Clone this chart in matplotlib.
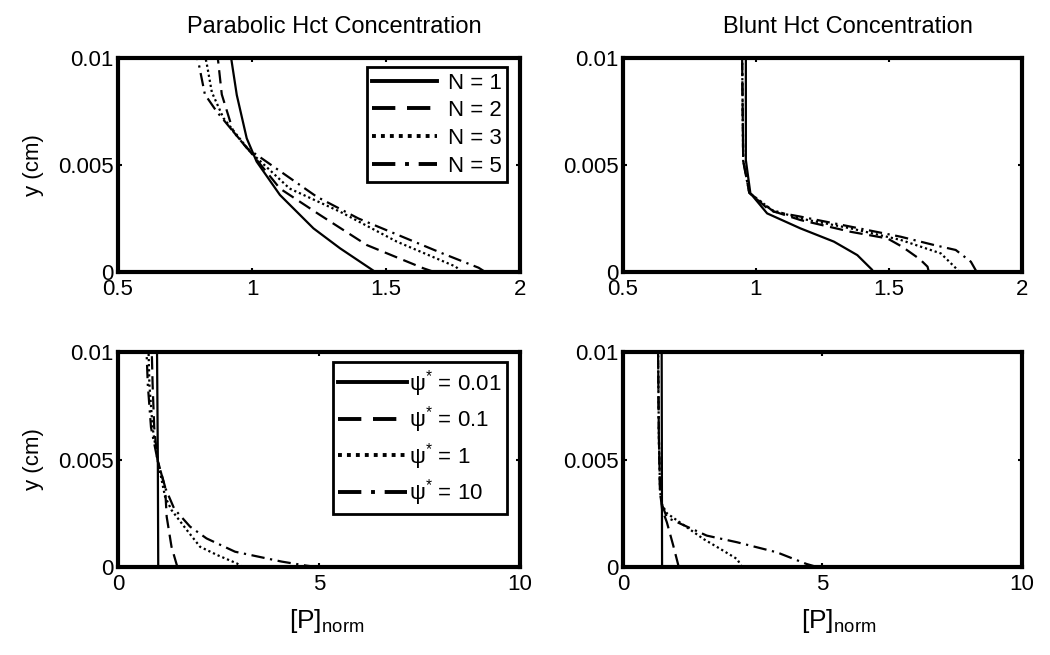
import numpy as np
import matplotlib
matplotlib.use("Agg")
import matplotlib.pyplot as plt

plt.rcParams["font.family"] = ["Liberation Sans", "DejaVu Sans"]
plt.rcParams["mathtext.fontset"] = "custom"
plt.rcParams["mathtext.rm"] = "Liberation Sans"
plt.rcParams["mathtext.it"] = "Liberation Sans:italic"

# --- values: y in cm, x = normalized [P] ---
# parabolic Hct, varying N
par_y1 = [0.0, 0.00017, 0.00111, 0.00204, 0.0036, 0.00516, 0.00625, 0.00827, 0.00983, 0.01]
par_n1 = [1.46, 1.44, 1.328, 1.229, 1.104, 1.017, 0.98, 0.943, 0.924, 0.922]
par_y2 = [0.0, 0.00017, 0.00126, 0.00266, 0.0039, 0.00562, 0.00656, 0.0083, 0.0098, 0.01]
par_n2 = [1.68, 1.64, 1.428, 1.254, 1.104, 0.993, 0.93, 0.887, 0.874, 0.872]
par_y3 = [0.0, 0.00025, 0.00142, 0.00282, 0.0039, 0.00562, 0.0072, 0.0084, 0.0098, 0.01]
par_n3 = [1.78, 1.76, 1.54, 1.328, 1.14, 0.993, 0.893, 0.85, 0.83, 0.826]
par_y5 = [0.0, 0.0002, 0.00087, 0.0025, 0.00352, 0.0058, 0.0075, 0.0083, 0.0098, 0.01]
par_n5 = [1.87, 1.845, 1.71, 1.397, 1.241, 0.98, 0.868, 0.824, 0.80, 0.795]

# blunt Hct, varying N
bl_y1 = [0.0, 0.0001, 0.00079, 0.00142, 0.00204, 0.00274, 0.00368, 0.00523, 0.0075, 0.01]
bl_n1 = [1.44, 1.437, 1.381, 1.293, 1.167, 1.042, 0.979, 0.962, 0.962, 0.962]
bl_y2 = [0.0, 0.00025, 0.0006, 0.00118, 0.00157, 0.00188, 0.00243, 0.0029, 0.0037, 0.0052, 0.01]
bl_n2 = [1.65, 1.645, 1.616, 1.55, 1.494, 1.356, 1.167, 1.05, 0.975, 0.952, 0.948]
bl_y3 = [0.0, 0.0001, 0.00087, 0.0015, 0.00204, 0.0025, 0.0029, 0.0037, 0.0052, 0.01]
bl_n3 = [1.765, 1.758, 1.695, 1.544, 1.356, 1.167, 1.06, 0.975, 0.952, 0.948]
bl_y5 = [0.0, 0.00048, 0.00103, 0.00126, 0.00165, 0.00212, 0.00259, 0.00282, 0.0037, 0.0052, 0.01]
bl_n5 = [1.83, 1.808, 1.751, 1.67, 1.544, 1.356, 1.167, 1.067, 0.975, 0.952, 0.948]

# parabolic Hct, varying psi*
psi_y001 = [0.0, 0.005, 0.01]
psi_001 = [1.0, 0.99, 0.97]
psi_y01 = [0.0, 0.0001, 0.00094, 0.00234, 0.00373, 0.005, 0.0065, 0.0085, 0.01]
psi_01 = [1.48, 1.46, 1.33, 1.21, 1.17, 0.98, 0.9, 0.86, 0.84]
psi_y1 = [0.0, 0.00017, 0.00056, 0.00094, 0.00172, 0.00265, 0.00327, 0.0041, 0.005, 0.0065, 0.0085, 0.01]
psi_1 = [3.1, 2.95, 2.46, 2.04, 1.71, 1.33, 1.17, 1.08, 0.98, 0.86, 0.78, 0.76]
psi_y10 = [0.0, 0.00006, 0.00025, 0.00071, 0.00133, 0.00188, 0.0027, 0.0037, 0.005, 0.0065, 0.0085, 0.01]
psi_10 = [4.95, 4.69, 4.07, 2.91, 2.2, 1.79, 1.4, 1.17, 0.98, 0.82, 0.74, 0.71]

# blunt Hct, varying psi*
bpsi_y001 = [0.0, 0.005, 0.01]
bpsi_001 = [0.98, 0.975, 0.97]
bpsi_y01 = [0.0, 0.00006, 0.001, 0.00208, 0.0027, 0.0035, 0.006, 0.01]
bpsi_01 = [1.4, 1.39, 1.26, 1.1, 0.98, 0.93, 0.9, 0.88]
bpsi_y1 = [0.0, 0.00037, 0.00084, 0.0013, 0.0025, 0.0029, 0.0035, 0.006, 0.01]
bpsi_1 = [2.98, 2.86, 2.44, 2.02, 1.1, 0.98, 0.93, 0.9, 0.88]
bpsi_y10 = [0.0, 0.00014, 0.00068, 0.00115, 0.00146, 0.0023, 0.0029, 0.0035, 0.006, 0.01]
bpsi_10 = [4.86, 4.6, 3.86, 2.86, 2.1, 1.1, 0.98, 0.93, 0.9, 0.88]

n_labels = ["N = 1", "N = 2", "N = 3", "N = 5"]
psi_labels = ["\u03c8$^{*}$ = 0.01", "\u03c8$^{*}$ = 0.1", "\u03c8$^{*}$ = 1", "\u03c8$^{*}$ = 10"]
styles = ["-", (0, (6, 3)), (0, (1, 1.3)), (0, (6, 2.5, 1, 2.5))]

fig = plt.figure(figsize=(10.5, 6.55), dpi=100)
ax_tl = fig.add_axes([0.1124, 0.5847, 0.383, 0.3267])
ax_tr = fig.add_axes([0.5933, 0.5847, 0.380, 0.3267])
ax_bl = fig.add_axes([0.1124, 0.1344, 0.383, 0.328])
ax_br = fig.add_axes([0.5933, 0.1344, 0.380, 0.328])


def style_axes(ax, xticks, xlabels):
    ax.set_ylim(0, 0.01)
    ax.set_xlim(xticks[0], xticks[-1])
    ax.set_xticks(xticks)
    ax.set_xticklabels(xlabels)
    ax.set_yticks([0, 0.005, 0.01])
    ax.set_yticklabels(["0", "0.005", "0.01"])
    for s in ax.spines.values():
        s.set_linewidth(3)
    ax.tick_params(direction="in", length=3, width=1.5, top=True, right=True,
                   labelsize=16)
    ax.tick_params(axis="x", pad=5)
    ax.tick_params(axis="y", pad=3)


lw = 1.6
ax_tl.plot(par_n1, par_y1, "k", ls=styles[0], lw=lw, label=n_labels[0])
ax_tl.plot(par_n2, par_y2, "k", ls=styles[1], lw=lw, label=n_labels[1])
ax_tl.plot(par_n3, par_y3, "k", ls=styles[2], lw=lw, label=n_labels[2])
ax_tl.plot(par_n5, par_y5, "k", ls=styles[3], lw=lw, label=n_labels[3])

ax_tr.plot(bl_n1, bl_y1, "k", ls=styles[0], lw=lw)
ax_tr.plot(bl_n2, bl_y2, "k", ls=styles[1], lw=lw)
ax_tr.plot(bl_n3, bl_y3, "k", ls=styles[2], lw=lw)
ax_tr.plot(bl_n5, bl_y5, "k", ls=styles[3], lw=lw)

ax_bl.plot(psi_001, psi_y001, "k", ls=styles[0], lw=lw, label=psi_labels[0])
ax_bl.plot(psi_01, psi_y01, "k", ls=styles[1], lw=lw, label=psi_labels[1])
ax_bl.plot(psi_1, psi_y1, "k", ls=styles[2], lw=lw, label=psi_labels[2])
ax_bl.plot(psi_10, psi_y10, "k", ls=styles[3], lw=lw, label=psi_labels[3])

ax_br.plot(bpsi_001, bpsi_y001, "k", ls=styles[0], lw=lw)
ax_br.plot(bpsi_01, bpsi_y01, "k", ls=styles[1], lw=lw)
ax_br.plot(bpsi_1, bpsi_y1, "k", ls=styles[2], lw=lw)
ax_br.plot(bpsi_10, bpsi_y10, "k", ls=styles[3], lw=lw)

style_axes(ax_tl, [0.5, 1, 1.5, 2], ["0.5", "1", "1.5", "2"])
style_axes(ax_tr, [0.5, 1, 1.5, 2], ["0.5", "1", "1.5", "2"])
style_axes(ax_bl, [0, 5, 10], ["0", "5", "10"])
style_axes(ax_br, [0, 5, 10], ["0", "5", "10"])

ax_tl.text(0.537, 1.145, "Parabolic Hct Concentration", transform=ax_tl.transAxes,
           ha="center", va="center", fontsize=17)
ax_tr.text(0.563, 1.145, "Blunt Hct Concentration", transform=ax_tr.transAxes,
           ha="center", va="center", fontsize=17)

for ax in (ax_tl, ax_bl):
    ax.set_ylabel("y (cm)", fontsize=16)
    ax.yaxis.set_label_coords(-0.184, 0.5)
for ax, xc in ((ax_bl, 0.52), (ax_br, 0.54)):
    ax.set_xlabel(r"[P]$_{\mathrm{norm}}$", fontsize=19)
    ax.xaxis.set_label_coords(xc, -0.185)

for ax, top, hl, htp, ls in ((ax_tl, 0.958, 2.9, 0.5, 0.3),
                             (ax_bl, 0.953, 3.1, 0.1, 0.25)):
    leg = ax.legend(loc="upper right", bbox_to_anchor=(0.968, top), borderaxespad=0,
                    fontsize=16, frameon=True, fancybox=False, edgecolor="k",
                    framealpha=1, handlelength=hl, handletextpad=htp,
                    labelspacing=ls, borderpad=0.25)
    leg.get_frame().set_linewidth(2)
    for line in leg.get_lines():
        line.set_linewidth(2.8)

fig.savefig("out.png", dpi=100)
